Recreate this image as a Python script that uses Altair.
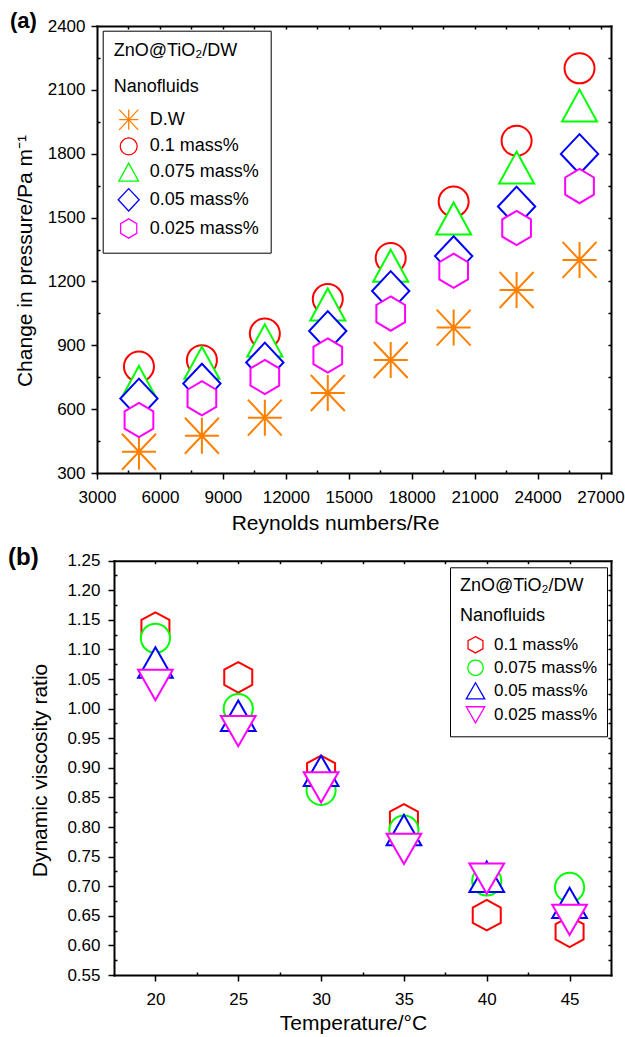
import altair as alt
import pandas as pd

FONT = "Liberation Sans"

# ---------------- (a) pressure drop vs Reynolds number ----------------
re_values = [5000, 8000, 11000, 14000, 17000, 20000, 23000, 26000]
series_a = ["D.W", "0.1 mass%", "0.075 mass%", "0.05 mass%", "0.025 mass%"]
dp_dw = [400, 475, 560, 676, 831, 983, 1160, 1301]
dp_010 = [800, 830, 955, 1117, 1310, 1575, 1861, 2201]
dp_0075 = [728, 818, 923, 1092, 1274, 1496, 1735, 2026]
dp_005 = [650, 720, 819, 967, 1155, 1319, 1552, 1799]
dp_0025 = [549, 651, 751, 852, 1049, 1250, 1451, 1648]
colors_a = ["#FF8000", "#FF0000", "#00FF00", "#0000FF", "#FF00FF"]

# ---------------- (b) viscosity ratio vs temperature ----------------
temps = [20, 25, 30, 35, 40, 45]
series_b = ["0.1 mass%", "0.075 mass%", "0.05 mass%", "0.025 mass%"]
vr_010 = [1.137, 1.053, 0.895, 0.813, 0.651, 0.623]
vr_0075 = [1.119, 1.000, 0.862, 0.795, 0.709, 0.698]
vr_005 = [1.078, 0.988, 0.895, 0.795, 0.716, 0.672]
vr_0025 = [1.040, 0.962, 0.867, 0.763, 0.713, 0.643]
colors_b = ["#FF0000", "#00FF00", "#0000FF", "#FF00FF"]

# tick positions
a_x_major = list(range(3000, 27001, 3000))
a_x_minor = list(range(4500, 25501, 3000))
a_x_top = list(range(4500, 27001, 1500))
a_y_major = list(range(300, 2401, 300))
a_y_minor = list(range(450, 2251, 300))
a_y_right = list(range(450, 2251, 150))

b_x_major = [20, 25, 30, 35, 40, 45]
b_x_minor = [22.5, 27.5, 32.5, 37.5, 42.5]
b_x_top = [20, 22.5, 25, 27.5, 30, 32.5, 35, 37.5, 40, 42.5, 45]
b_y_major = [round(0.55 + 0.05 * i, 2) for i in range(15)]
b_y_minor = [round(0.575 + 0.05 * i, 3) for i in range(14)]
b_y_right = [round(0.575 + 0.025 * i, 3) for i in range(27)]

# canvas and the pixel frame of each panel: (left, right, bottom, top)
W, H = 625, 1037
FRAME_A = (97, 611, 473, 26)
FRAME_B = (114, 611, 975, 560.7)


def circle(r):
    return f"M{r},0A{r},{r},0,1,1,{-r},0A{r},{r},0,1,1,{r},0Z"


def polygon(pts):
    return "M" + "L".join(f"{x},{y}" for x, y in pts) + "Z"


def hexagon(w, h):
    return polygon([(0, -h), (w, -h / 2), (w, h / 2), (0, h), (-w, h / 2), (-w, -h / 2)])


star = ("M0,-1.125L0,1.125M-1.0625,0L1.0625,0"
        "M-1.0625,-1.125L1.0625,1.125M-1.0625,1.125L1.0625,-1.125")
shapes_a = [
    star,
    circle(0.9375),
    polygon([(0, -1), (1.094, 1), (-1.094, 1)]),
    polygon([(0, -1.24), (1.166, 0), (0, 1.24), (-1.166, 0)]),
    hexagon(0.897, 1.072),
]
shapes_b = [
    hexagon(0.875, 0.953),
    circle(0.91),
    polygon([(0, -0.947), (1.084, 0.947), (-1.084, 0.947)]),
    polygon([(0, 0.947), (1.084, -0.947), (-1.084, -0.947)]),
]

rows_a = []
for s, vals in zip(series_a, [dp_dw, dp_010, dp_0075, dp_005, dp_0025]):
    for r, v in zip(re_values, vals):
        rows_a.append({"series": s, "re": r, "dp": v})
df_a = pd.DataFrame(rows_a)

rows_b = []
for s, vals in zip(series_b, [vr_010, vr_0075, vr_005, vr_0025]):
    for t, v in zip(temps, vals):
        rows_b.append({"series": s, "temp": t, "vr": v})
df_b = pd.DataFrame(rows_b)

TITLE = ["ZnO@TiO\u2082/DW", "Nanofluids"]
COMMON = dict(tickColor="black", tickWidth=1.5, domainColor="black",
              domainWidth=2, domainCap="square", labelFlush=False,
              labelOverlap=False)


def axis(orient, offset, values=None, tick=3, labels=False, domain=False,
         ticks=True, title=None, **kw):
    args = dict(orient=orient, offset=offset, tickSize=tick, labels=labels,
                domain=domain, ticks=ticks, title=title, **COMMON, **kw)
    if values is not None:
        args["values"] = values
    return alt.Axis(**args)


def panel(df, xf, yf, xdom, ydom, frame, series, colors, shapes, legend,
          xmaj, xmin, xtop, ymaj, ymin, yright, xfmt, yfmt,
          xtitle, ytitle, xt_pos, yt_pos, ylab_pad, tag, tag_pos, tag_size):
    left, right, bottom, top = frame
    xs = alt.Scale(domain=xdom, range=[left, right], nice=False, zero=False)
    ys = alt.Scale(domain=ydom, range=[bottom, top], nice=False, zero=False)
    off_b, off_t = -(H - bottom), -top
    off_l, off_r = -left, -(W - right)
    base = alt.Chart(df)

    def xy(xa, ya):
        return dict(x=alt.X(f"{xf}:Q", scale=xs, axis=xa),
                    y=alt.Y(f"{yf}:Q", scale=ys, axis=ya))

    pts = base.mark_point(filled=False, fill="white", fillOpacity=1,
                          strokeWidth=2, size=1024, opacity=1).encode(
        **xy(axis("bottom", off_b, xmaj, tick=6, labels=True, domain=True,
                  format=xfmt, labelPadding=10, title=xtitle,
                  titleX=xt_pos[0], titleY=xt_pos[1], titleAlign="center",
                  titleBaseline="alphabetic"),
             axis("left", off_l, ymaj, tick=6, labels=True, domain=True,
                  format=yfmt, labelPadding=ylab_pad, title=ytitle,
                  titleX=yt_pos[0], titleY=yt_pos[1], titleAngle=270,
                  titleAlign="center", titleBaseline="alphabetic")),
        color=alt.Color("series:N", scale=alt.Scale(domain=series, range=colors), legend=legend),
        shape=alt.Shape("series:N", scale=alt.Scale(domain=series, range=shapes), legend=legend),
    )
    # inward minor ticks on the bottom and left edges
    minor = base.mark_point(opacity=0).encode(
        **xy(axis("bottom", off_b - 3, xmin), axis("left", off_l - 3, ymin)))
    # inward ticks on the top and right edges
    mirror = base.mark_point(opacity=0).encode(
        **xy(axis("top", off_t - 3, xtop), axis("right", off_r - 3, yright)))
    # top and right border lines
    frame_lines = base.mark_point(opacity=0).encode(
        **xy(axis("top", off_t, ticks=False, domain=True),
             axis("right", off_r, ticks=False, domain=True)))
    label = alt.Chart(alt.Data(values=[{"t": tag}])).mark_text(
        font=FONT, fontSize=tag_size, fontWeight="bold", align="left",
        baseline="middle", color="black").encode(
        x=alt.value(tag_pos[0]), y=alt.value(tag_pos[1]), text="t:N")
    return [pts, minor, mirror, frame_lines, label]


leg_a = alt.Legend(orient="none", legendX=102.7, legendY=30.7, title=TITLE,
                   titleFontSize=18, titleLineHeight=36, titlePadding=14,
                   labelFontSize=18, symbolSize=324, symbolStrokeWidth=1.3,
                   rowPadding=1.7, padding=11, symbolOffset=5, labelOffset=11,
                   strokeColor="black", fillColor="white")
leg_b = alt.Legend(orient="none", legendX=450, legendY=567.3, title=TITLE,
                   titleFontSize=18, titleLineHeight=30, titlePadding=10,
                   labelFontSize=17, symbolSize=290, symbolStrokeWidth=1.3,
                   rowPadding=1, padding=10, symbolOffset=6, labelOffset=9,
                   strokeColor="black", fillColor="white")

layers_a = panel(
    df_a, "re", "dp", [3000, 27500], [300, 2400], FRAME_A,
    series_a, colors_a, shapes_a, leg_a,
    a_x_major, a_x_minor, a_x_top, a_y_major, a_y_minor, a_y_right, "d", "d",
    "Reynolds numbers/Re", "Change in pressure/Pa m\u207b\u00b9",
    (335, 56.7), (-65.3, 260.5), 6, "(a)", (10, 21), 22)

layers_b = panel(
    df_b, "temp", "vr", [17.5, 47.5], [0.55, 1.25], FRAME_B,
    series_b, colors_b, shapes_b, leg_b,
    b_x_major, b_x_minor, b_x_top, b_y_major, b_y_minor, b_y_right, "d", ".2f",
    "Temperature/\u00b0C", "Dynamic viscosity ratio",
    (353, 54), (-67.3, 770), 8, "(b)", (8, 558), 24)

chart = alt.layer(*layers_a, *layers_b).resolve_scale(
    x="independent", y="independent", color="independent", shape="independent"
).resolve_axis(
    x="independent", y="independent"
).properties(
    width=W, height=H, autosize=alt.AutoSizeParams(type="none"),
    padding=0, background="white",
).configure_view(
    strokeWidth=0
).configure_axis(
    labelFont=FONT, titleFont=FONT, labelFontSize=17, titleFontSize=21,
    titleFontWeight="normal", labelColor="black", titleColor="black", grid=False,
).configure_legend(
    labelFont=FONT, titleFont=FONT, titleFontWeight="normal",
    labelColor="black", titleColor="black", strokeWidth=1,
)

chart.save("out.html", embed_options={"renderer": "svg", "actions": False})
